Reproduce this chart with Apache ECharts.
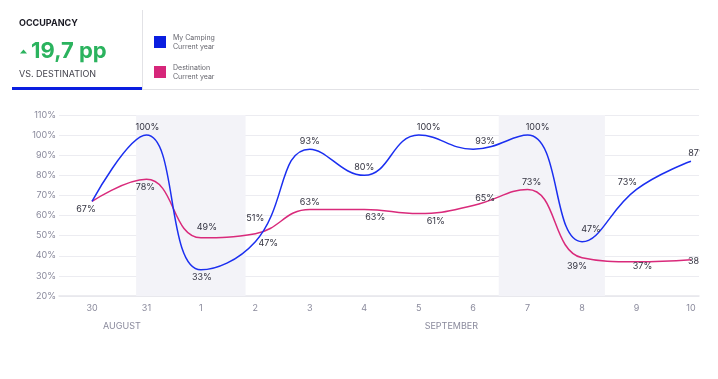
<!DOCTYPE html>
<html>
<head>
<meta charset="utf-8">
<script src="https://cdn.jsdelivr.net/npm/echarts@6/dist/echarts.min.js"></script>
<style>
  html, body { margin: 0; padding: 0; background: #ffffff; }
  #wrap { width: 718px; height: 379px; position: relative; }
  #chart { width: 700px; height: 379px; overflow: hidden; }
</style>
</head>
<body>
<div id="wrap"><div id="chart"></div></div>
<script>
// ---- data ----
const categories = ['30', '31', '1', '2', '3', '4', '5', '6', '7', '8', '9', '10'];
const myCamping = [67, 100, 33, 47, 93, 80, 100, 93, 100, 47, 73, 87];
const destination = [67, 78, 49, 51, 63, 63, 61, 65, 73, 39, 37, 38];
const monthLabels = ['AUGUST', 'SEPTEMBER'];
const monthLabelAt = [0.55, 6.6];
const shadedRanges = [[0.81, 2.82], [7.47, 9.42]];
const headline = { title: 'OCCUPANCY', value: '19,7 pp', subtitle: 'VS. DESTINATION' };

// ---- label placement (style only) ----
const blueLabelPos = [null, 'top', 'bottom', 'right', 'top', 'top', 'top', 'top', 'top', 'top', 'top', 'top'];
const pinkLabelPos = ['bottom', 'bottom', 'top', 'top', 'top', 'bottom', 'bottom', 'top', 'top', 'bottom', 'bottom', 'bottom'];
const blueLabelShift = [[0, 0], [1, 0], [1, 0], [0, 2], [0, 0], [0, 0], [10, 0], [12, 0], [10, 0], [9, -5], [-9, 0], [7, 0]];
const pinkLabelShift = [[-6, 0], [-1, 0], [6, -3], [0, -8], [0, 0], [11, 0], [17, 0], [12, 0], [4, 0], [-5, 1], [6, -3], [7, -6]];

const FONT = 'Inter, "Liberation Sans", sans-serif';
const BLUE = '#1b2ff0';
const PINK = '#d92a7b';

function buildData(values, positions, shifts) {
  return values.map((v, i) => {
    const pos = positions[i];
    return {
      value: [i, v],
      label: pos ? { show: true, position: pos, offset: shifts[i] } : { show: false }
    };
  });
}

const chart = echarts.init(document.getElementById('chart'), null, { renderer: 'canvas' });

const X0 = 92, STEP = 54.45, GRID_L = 59, GRID_R = 699, W = 700;
const xMin = (GRID_L - X0) / STEP;
const xMax = (GRID_R - X0) / STEP;

const labelStyle = {
  show: true,
  color: '#333340',
  fontFamily: FONT,
  fontSize: 9,
  distance: 3,
  formatter: p => p.value[1] + '%'
};

const option = {
  animation: false,
  backgroundColor: '#ffffff',
  textStyle: { fontFamily: FONT },
  grid: { left: GRID_L, right: W - GRID_R, top: 115, bottom: 83, containLabel: false },
  legend: {
    orient: 'vertical',
    left: 154,
    top: 33,
    padding: 0,
    itemWidth: 12,
    itemHeight: 12,
    itemGap: 12,
    icon: 'rect',
    selectedMode: false,
    textStyle: { fontSize: 7, color: '#66666e', lineHeight: 9, fontFamily: FONT, padding: [0, 0, 0, 2] },
    data: [
      { name: 'My Camping\nCurrent year', itemStyle: { color: '#0a1ee0' } },
      { name: 'Destination\nCurrent year', itemStyle: { color: '#d6267a' } }
    ]
  },
  xAxis: {
    type: 'value',
    min: xMin,
    max: xMax,
    splitLine: { show: false },
    axisTick: { show: false },
    axisLine: { show: true, lineStyle: { color: '#e6e6ec', width: 1.5 } },
    axisLabel: {
      customValues: categories.map((c, i) => i),
      formatter: v => categories[Math.round(v)],
      color: '#8a8a9c',
      fontSize: 9,
      margin: 8,
      fontFamily: FONT
    }
  },
  yAxis: {
    type: 'value',
    min: 20,
    max: 110,
    interval: 10,
    axisLine: { show: false },
    axisTick: { show: false },
    splitLine: { lineStyle: { color: '#ececf1', width: 1 } },
    axisLabel: {
      formatter: '{value}%',
      color: '#8a8a9c',
      fontSize: 9,
      margin: 3,
      fontFamily: FONT
    }
  },
  series: [
    {
      name: 'My Camping\nCurrent year',
      type: 'line',
      smooth: 0.45,
      symbol: 'circle',
      symbolSize: 0.1,
      showSymbol: true,
      itemStyle: { color: BLUE },
      lineStyle: { color: BLUE, width: 1.5 },
      label: labelStyle,
      data: buildData(myCamping, blueLabelPos, blueLabelShift),
      markArea: {
        silent: true,
        itemStyle: { color: '#f3f3f8' },
        data: shadedRanges.map(r => [{ xAxis: r[0] }, { xAxis: r[1] }])
      },
      z: 3
    },
    {
      name: 'Destination\nCurrent year',
      type: 'line',
      smooth: 0.45,
      symbol: 'circle',
      symbolSize: 0.1,
      showSymbol: true,
      itemStyle: { color: PINK },
      lineStyle: { color: PINK, width: 1.5 },
      label: labelStyle,
      data: buildData(destination, pinkLabelPos, pinkLabelShift),
      z: 2
    }
  ],
  graphic: [
    { type: 'text', left: 19, top: 19, style: { text: headline.title, font: 'bold 9px ' + FONT, fill: '#1a1a24' } },
    { type: 'polygon', shape: { points: [[20, 53.5], [27, 53.5], [23.5, 49.5]] }, style: { fill: '#2bb35e' } },
    { type: 'text', left: 31, top: 40, style: { text: headline.value, font: 'bold 22px ' + FONT, fill: '#2bb35e' } },
    { type: 'text', left: 19, top: 70, style: { text: headline.subtitle, font: '9px ' + FONT, fill: '#44444e', letterSpacing: 1 } },
    { type: 'rect', shape: { x: 12, y: 87, width: 130, height: 3 }, style: { fill: '#0a1ee0' } },
    { type: 'line', shape: { x1: 142.5, y1: 10, x2: 142.5, y2: 89 }, style: { stroke: '#e2e2e6', lineWidth: 1 } },
    { type: 'line', shape: { x1: 142, y1: 89.5, x2: 699, y2: 89.5 }, style: { stroke: '#e2e2e6', lineWidth: 1 } }
  ]
};

chart.setOption(option);

// month labels placed through the axis scale
const monthGraphics = monthLabels.map((m, i) => {
  const px = chart.convertToPixel({ xAxisIndex: 0 }, monthLabelAt[i]);
  return {
    type: 'text', x: px, y: 322,
    style: { text: m, font: '9px ' + FONT, fill: '#8a8a9c', letterSpacing: 1, align: 'center' }
  };
});
chart.setOption({ graphic: option.graphic.concat(monthGraphics) });
</script>
</body>
</html>
